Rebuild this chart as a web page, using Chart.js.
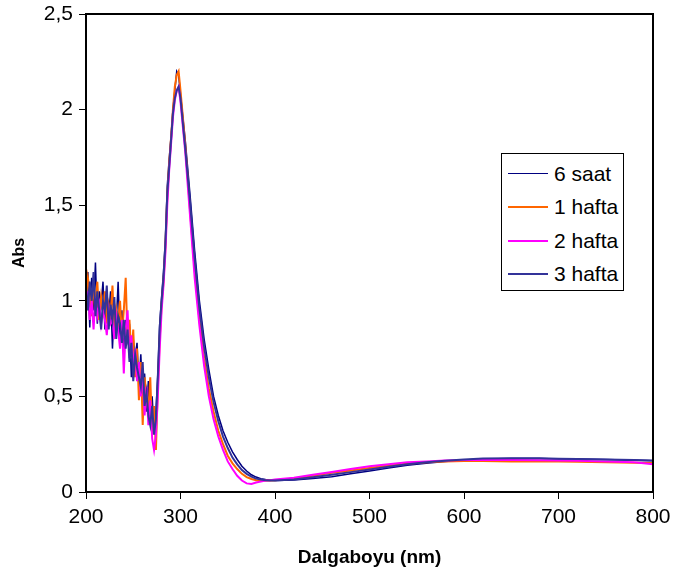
<!DOCTYPE html>
<html>
<head>
<meta charset="utf-8">
<script src="https://cdn.jsdelivr.net/npm/chart.js@4.4.1/dist/chart.umd.min.js"></script>
<style>
  body { margin: 0; background: #fff; }
  #wrap { position: relative; width: 674px; height: 580px; }
  #legend {
    position: absolute; left: 501px; top: 153px; width: 121px; height: 133px;
    border: 1px solid #000; background: #fff; padding-top: 3px; box-sizing: content-box;
    font-family: "Liberation Sans", Arial, sans-serif; font-size: 21px; color: #000;
  }
  .row { display: flex; align-items: center; height: 33.5px; }
  .swatch { width: 40px; margin-left: 6px; margin-right: 6px; }
</style>
</head>
<body>
<div id="wrap">
  <canvas id="chart" width="674" height="580"></canvas>
  <div id="legend"></div>
</div>
<script>
// wavelength (nm)
const wavelengths = [
  200, 202, 204, 206, 208, 210, 212, 214, 216, 218,
  220, 222, 224, 226, 228, 230, 232, 234, 236, 238,
  240, 242, 244, 246, 248, 250, 252, 254, 256, 258,
  260, 262, 264, 266, 268, 270, 272, 274,
  276, 278, 280, 282, 284, 286, 288, 290, 292, 294, 296, 298, 300,
  305, 310, 315, 320, 325, 330, 335, 340, 345, 350,
  355, 360, 365, 370, 375, 380, 385, 390, 395, 400,
  420, 440, 460, 480, 500, 520, 540, 560, 580, 600, 620, 650, 680, 700, 720, 750, 780, 800
];

const saat6 = [
  1.05, 1.15, 0.86, 1.12, 0.95, 1.2, 0.88, 1.05, 0.98, 1.1,
  0.85, 1.0, 0.92, 1.05, 0.75, 0.98, 0.88, 1.1, 0.8, 0.95,
  0.72, 0.9, 0.8, 0.88, 0.6, 0.8, 0.7, 0.78, 0.55, 0.72,
  0.5, 0.62, 0.42, 0.58, 0.36, 0.5, 0.32, 0.42,
  0.62, 0.88, 1.02, 1.15, 1.32, 1.6, 1.74, 1.86, 2.0, 2.1, 2.2, 2.18, 2.08,
  1.84, 1.56, 1.26, 1.0, 0.8, 0.64, 0.5, 0.4, 0.32, 0.26,
  0.21, 0.17, 0.135, 0.11, 0.09, 0.078, 0.07, 0.065, 0.062, 0.06,
  0.063, 0.07, 0.08, 0.095, 0.11, 0.125, 0.14, 0.15, 0.16, 0.168, 0.173, 0.175, 0.175, 0.173, 0.172, 0.17, 0.166, 0.163
];

const hafta1 = [
  1.0, 1.12, 1.05, 0.92, 1.08, 0.98, 1.1, 0.9, 1.02, 0.95,
  1.05, 0.88, 0.98, 0.92, 1.08, 0.85, 0.95, 0.88, 1.0, 0.82,
  0.95, 1.12, 0.78, 0.9, 0.7, 0.85, 0.6, 0.75, 0.48, 0.68,
  0.35, 0.6, 0.5, 0.42, 0.6, 0.3, 0.45, 0.22,
  0.55, 0.8, 0.98, 1.1, 1.28, 1.55, 1.72, 1.85, 2.0, 2.12, 2.18, 2.2, 2.1,
  1.82, 1.48, 1.16, 0.9, 0.7, 0.54, 0.42, 0.32, 0.25, 0.19,
  0.15, 0.12, 0.095, 0.078, 0.068, 0.062, 0.06, 0.06, 0.06, 0.062,
  0.07, 0.085, 0.1, 0.113, 0.126, 0.138, 0.148, 0.155, 0.16, 0.162, 0.162, 0.16, 0.16, 0.16, 0.158, 0.155, 0.153, 0.152
];

const hafta2 = [
  0.95, 1.05, 0.9, 1.0, 0.85, 1.02, 0.92, 0.98, 0.88, 0.95,
  0.9, 0.82, 0.95, 0.88, 0.9, 0.8, 0.92, 0.85, 0.75, 0.9,
  0.62, 0.85, 0.95, 0.7, 0.82, 0.65, 0.75, 0.58, 0.68, 0.5,
  0.62, 0.4, 0.55, 0.35, 0.48, 0.28, 0.22, 0.3,
  0.5, 0.75, 0.95, 1.08, 1.25, 1.5, 1.68, 1.82, 1.96, 2.05, 2.1, 2.12, 2.04,
  1.78, 1.45, 1.12, 0.87, 0.66, 0.5, 0.38, 0.29, 0.22, 0.16,
  0.12, 0.085, 0.06, 0.045, 0.042, 0.05, 0.055, 0.06, 0.062, 0.065,
  0.075, 0.09, 0.105, 0.12, 0.135, 0.145, 0.155, 0.16, 0.165, 0.167, 0.168, 0.167, 0.166, 0.165, 0.163, 0.16, 0.155, 0.145
];

const hafta3 = [
  1.08, 0.95, 1.1, 1.0, 1.15, 0.92, 1.05, 0.95, 0.85, 1.0,
  0.95, 1.08, 0.85, 0.98, 0.9, 1.02, 0.8, 0.92, 0.88, 0.78,
  0.9, 0.75, 0.85, 0.68, 0.78, 0.58, 0.72, 0.65, 0.6, 0.55,
  0.68, 0.45, 0.52, 0.4, 0.35, 0.45, 0.3, 0.38,
  0.6, 0.86, 1.0, 1.12, 1.3, 1.56, 1.7, 1.84, 1.98, 2.06, 2.1, 2.12, 2.06,
  1.8, 1.52, 1.22, 0.96, 0.76, 0.6, 0.47, 0.37, 0.29, 0.23,
  0.18, 0.145, 0.115, 0.095, 0.08, 0.07, 0.065, 0.062, 0.06, 0.06,
  0.066, 0.077, 0.09, 0.104, 0.118, 0.132, 0.145, 0.155, 0.163, 0.17, 0.175, 0.177, 0.176, 0.174, 0.172, 0.17, 0.167, 0.165
];

const seriesNames = ["6 saat", "1 hafta", "2 hafta", "3 hafta"];
const seriesColors = ["#000080", "#FF6600", "#FF00FF", "#333399"];
const seriesWidths = [1.5, 2, 2, 2];
const seriesValues = [saat6, hafta1, hafta2, hafta3];

const xTicks = [200, 300, 400, 500, 600, 700, 800];
const yTicks = [0, 0.5, 1, 1.5, 2, 2.5];

const FONT = "'Liberation Sans', Arial, sans-serif";

const datasets = seriesNames.map((name, i) => ({
  label: name,
  data: wavelengths.map((w, j) => ({ x: w, y: seriesValues[i][j] })),
  borderColor: seriesColors[i],
  backgroundColor: seriesColors[i],
  borderWidth: seriesWidths[i],
  pointRadius: 0,
  tension: 0,
  order: seriesNames.length - i, // later series on top like Excel
}));

// black frame round the plot area
const frame = {
  id: "frame",
  afterDraw(chart) {
    const { ctx, chartArea: a } = chart;
    ctx.save();
    ctx.strokeStyle = "#000";
    ctx.lineWidth = 2;
    ctx.strokeRect(a.left, a.top, a.right - a.left, a.bottom - a.top);
    ctx.restore();
  },
};

new Chart(document.getElementById("chart"), {
  type: "line",
  data: { datasets },
  options: {
    responsive: false,
    animation: false,
    devicePixelRatio: 1,
    layout: { padding: { left: 0, right: 21, top: 14, bottom: 0 } },
    plugins: { legend: { display: false }, tooltip: { enabled: false } },
    scales: {
      x: {
        type: "linear",
        min: 200,
        max: 800,
        afterBuildTicks: (s) => { s.ticks = xTicks.map((v) => ({ value: v })); },
        afterFit: (s) => { s.height = 88; s.paddingLeft = 0; s.paddingRight = 0; },
        ticks: { color: "#000", font: { family: FONT, size: 21 }, padding: 6, maxRotation: 0 },
        grid: { drawOnChartArea: false, tickLength: 7, color: "#000" },
        border: { color: "#000", width: 2 },
        title: {
          display: true,
          text: "Dalgaboyu (nm)",
          color: "#000",
          font: { family: FONT, size: 19, weight: "bold" },
          padding: { top: 4, bottom: 11 },
        },
      },
      y: {
        min: 0,
        max: 2.5,
        afterBuildTicks: (s) => { s.ticks = yTicks.map((v) => ({ value: v })); },
        afterFit: (s) => { s.width = 86; s.paddingTop = 0; s.paddingBottom = 0; },
        ticks: {
          color: "#000",
          font: { family: FONT, size: 21 },
          padding: 6,
          callback: (v) => String(v).replace(".", ","),
        },
        grid: { drawOnChartArea: false, tickLength: 7, color: "#000" },
        border: { color: "#000", width: 2 },
        title: {
          display: true,
          text: "Abs",
          color: "#000",
          font: { family: FONT, size: 16, weight: "bold" },
          padding: { top: 10, bottom: 4 },
        },
      },
    },
  },
  plugins: [frame],
});

// legend box
const legend = document.getElementById("legend");
seriesNames.forEach((name, i) => {
  const row = document.createElement("div");
  row.className = "row";
  const sw = document.createElement("div");
  sw.className = "swatch";
  sw.style.borderTop = seriesWidths[i] + "px solid " + seriesColors[i];
  const txt = document.createElement("span");
  txt.textContent = name;
  row.appendChild(sw);
  row.appendChild(txt);
  legend.appendChild(row);
});
</script>
</body>
</html>
